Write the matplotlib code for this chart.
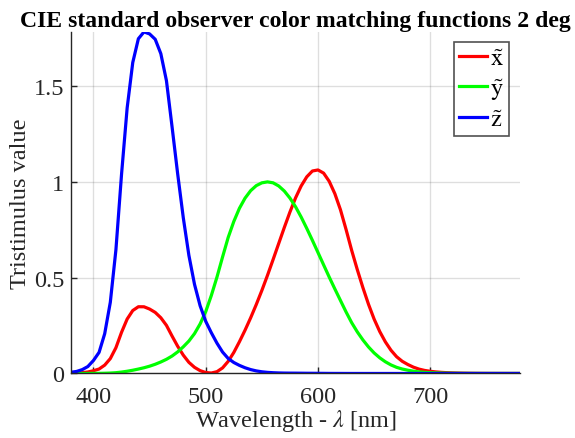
import numpy as np
import matplotlib
matplotlib.use('Agg')
import matplotlib.pyplot as plt

# CIE 1931 2 deg colour matching functions, 5 nm steps
wavelength = np.arange(380, 781, 5)

x_bar = [0.001368, 0.002236, 0.004243, 0.007650, 0.014310, 0.023190, 0.043510, 0.077630,
         0.134380, 0.214770, 0.283900, 0.328500, 0.348280, 0.348060, 0.336200, 0.318700,
         0.290800, 0.251100, 0.195360, 0.142100, 0.095640, 0.057950, 0.032010, 0.014700,
         0.004900, 0.002400, 0.009300, 0.029100, 0.063270, 0.109600, 0.165500, 0.225750,
         0.290400, 0.359700, 0.433450, 0.512050, 0.594500, 0.678400, 0.762100, 0.842500,
         0.916300, 0.978600, 1.026300, 1.056700, 1.062200, 1.045600, 1.002600, 0.938400,
         0.854450, 0.751400, 0.642400, 0.541900, 0.447900, 0.360800, 0.283500, 0.218700,
         0.164900, 0.121200, 0.087400, 0.063600, 0.046770, 0.032900, 0.022700, 0.015840,
         0.011359, 0.008111, 0.005790, 0.004109, 0.002899, 0.002049, 0.001440, 0.001000,
         0.000690, 0.000476, 0.000332, 0.000235, 0.000166, 0.000117, 0.000083, 0.000059,
         0.000042]

y_bar = [0.000039, 0.000064, 0.000120, 0.000217, 0.000396, 0.000640, 0.001210, 0.002180,
         0.004000, 0.007300, 0.011600, 0.016840, 0.023000, 0.029800, 0.038000, 0.048000,
         0.060000, 0.073900, 0.090980, 0.112600, 0.139020, 0.169300, 0.208020, 0.258600,
         0.323000, 0.407300, 0.503000, 0.608200, 0.710000, 0.793200, 0.862000, 0.914850,
         0.954000, 0.980300, 0.994950, 1.000000, 0.995000, 0.978600, 0.952000, 0.915400,
         0.870000, 0.816300, 0.757000, 0.694900, 0.631000, 0.566800, 0.503000, 0.441200,
         0.381000, 0.321000, 0.265000, 0.217000, 0.175000, 0.138200, 0.107000, 0.081600,
         0.061000, 0.044580, 0.032000, 0.023200, 0.017000, 0.011920, 0.008210, 0.005723,
         0.004102, 0.002929, 0.002091, 0.001484, 0.001047, 0.000740, 0.000520, 0.000361,
         0.000249, 0.000172, 0.000120, 0.000085, 0.000060, 0.000042, 0.000030, 0.000021,
         0.000015]

z_bar = [0.006450, 0.010550, 0.020050, 0.036210, 0.067850, 0.110200, 0.207400, 0.371300,
         0.645600, 1.039050, 1.385600, 1.622960, 1.747060, 1.782600, 1.772110, 1.744100,
         1.669200, 1.528100, 1.287640, 1.041900, 0.812950, 0.616200, 0.465180, 0.353300,
         0.272000, 0.212300, 0.158200, 0.111700, 0.078250, 0.057250, 0.042160, 0.029840,
         0.020300, 0.013400, 0.008750, 0.005750, 0.003900, 0.002750, 0.002100, 0.001800,
         0.001650, 0.001400, 0.001100, 0.001000, 0.000800, 0.000600, 0.000340, 0.000240,
         0.000190, 0.000100, 0.000050, 0.000030, 0.000020, 0.000010, 0.0, 0.0,
         0.0, 0.0, 0.0, 0.0, 0.0, 0.0, 0.0, 0.0,
         0.0, 0.0, 0.0, 0.0, 0.0, 0.0, 0.0, 0.0,
         0.0, 0.0, 0.0, 0.0, 0.0, 0.0, 0.0, 0.0,
         0.0]

labels = [r'$\tilde{\mathrm{x}}$', r'$\tilde{\mathrm{y}}$', r'$\tilde{\mathrm{z}}$']
colors = ['#ff0000', '#00ff00', '#0000ff']

plt.rcParams['font.family'] = ['Liberation Serif', 'DejaVu Serif']
plt.rcParams['mathtext.fontset'] = 'stix'

fs = 17.5

fig = plt.figure(figsize=(5.75, 4.39), dpi=100)
ax = fig.add_axes([0.1235, 0.147, 0.781, 0.778])

for series, lab, col in zip([x_bar, y_bar, z_bar], labels, colors):
    ax.plot(wavelength, series, color=col, linewidth=2.3, label=lab)

ax.set_xlim(380, 780)
ax.set_ylim(0, max(z_bar))
ax.set_xticks([400, 500, 600, 700])
ax.set_yticks([0, 0.5, 1, 1.5])
ax.set_yticklabels(['0', '0.5', '1', '1.5'])

ax.grid(True, color='#262626', alpha=0.15, linewidth=1.0)
ax.spines['top'].set_visible(False)
ax.spines['right'].set_visible(False)
for side in ['left', 'bottom']:
    ax.spines[side].set_color('#262626')
    ax.spines[side].set_linewidth(1.0)
ax.tick_params(direction='in', length=4, colors='#262626', labelsize=fs, width=1.0)
ax.tick_params(axis='y', pad=5)
ax.tick_params(axis='x', pad=9)

ax.set_xlabel(r'Wavelength - $\lambda$ [nm]', fontsize=fs, color='#262626', labelpad=0)
ax.set_ylabel('Tristimulus value', fontsize=fs, color='#262626', labelpad=1.5)
ax.set_title('CIE standard observer color matching functions 2 deg',
             fontsize=17.1, fontweight='bold', pad=4.5)

leg = ax.legend(loc='upper right', bbox_to_anchor=(0.9756, 0.97), fontsize=fs,
                frameon=True, fancybox=False, edgecolor='#262626', handlelength=1.15,
                handletextpad=0.1, borderpad=0.22, labelspacing=0.28, borderaxespad=0)
leg.get_frame().set_linewidth(1.2)

fig.savefig('out.png', dpi=100)
